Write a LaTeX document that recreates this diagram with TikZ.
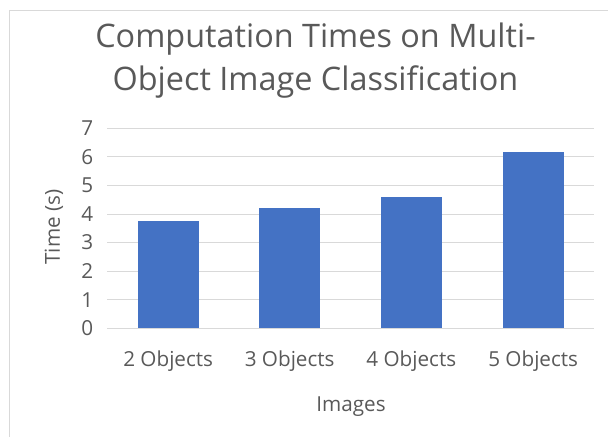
\documentclass[tikz,border=0pt]{standalone}
\usepackage{fontspec}
\setmainfont{Open Sans}
\usepackage{xcolor}
\usepackage{tikz}
\usetikzlibrary{positioning}

\definecolor{chartgray}{HTML}{595959}
\definecolor{gridgray}{HTML}{D9D9D9}
\definecolor{barblue}{HTML}{4472C4}

\begin{document}
\begin{tikzpicture}[
    x=0.75pt, y=-0.75pt,
    font=\fontsize{15.5}{18}\selectfont,
    every node/.style={text=chartgray, inner sep=0pt},
    gridline/.style={draw=gridgray, line width=0.75pt},
    frameline/.style={draw=gridgray, line width=0.75pt},
    bar/.style={fill=barblue},
    ticklabel/.style={anchor=east},
    catlabel/.style={anchor=base},
    axistitle/.style={font=\fontsize{15.5}{18}\selectfont},
    charttitle/.style={align=center, anchor=base, font=\fontsize{24.3}{32.25}\selectfont}
]
\useasboundingbox (0,0) rectangle (608,437);
% chart frame (only top and left edges show)
\draw[frameline] (608,10) -- (9,10) -- (9,437);

% gridlines and value axis
\foreach \v in {0,...,7} {
    \draw[gridline] (107.3,328.3-28.57*\v) -- (594.3,328.3-28.57*\v);
    \node[ticklabel] (tick\v) at (93.5,328.3-28.57*\v) {\v};
}

% bars
\fill[bar] (137.7,328.3) rectangle (198.7,220.7);
\fill[bar] (259.3,328.3) rectangle (320.0,208.3);
\fill[bar] (381.0,328.3) rectangle (441.7,197.0);
\fill[bar] (502.7,328.3) rectangle (563.7,152.3);

% categories
\node[catlabel] (two) at (168.2,366) {2 Objects};
\node[catlabel] (three) at (289.7,366) {3 Objects};
\node[catlabel] (four) at (411.3,366) {4 Objects};
\node[catlabel] (five) at (533.2,366) {5 Objects};

% titles
\node[charttitle] (title) at (315.5,90.5) {Computation Times on Multi-\\Object Image Classification};
\node[axistitle, anchor=base] (xtitle) at (351,411.5) {Images};
\node[axistitle, anchor=base, rotate=90] (ytitle) at (60,227) {Time (s)};
\end{tikzpicture}
\end{document}
